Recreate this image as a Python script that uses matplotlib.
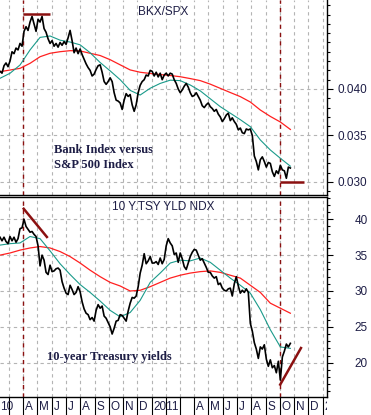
#Bank index ratio and 10 year yield, two stacked panels with a shared month strip
import pandas as pd
import matplotlib
matplotlib.use('Agg')
from matplotlib import pyplot as plt
import matplotlib.dates as mdates
from matplotlib.ticker import FixedLocator, MultipleLocator, FormatStrFormatter

start, end = '2010-02-10', '2011-10-24'

#BKX/SPX ratio (black), every ~4 days
bkx_spx = [0.0419, 0.0417, 0.0425, 0.0428, 0.0424, 0.0430, 0.0440, 0.0438, 0.0444, 0.0442,
           0.0449, 0.0446, 0.0462, 0.0467, 0.0463, 0.0472, 0.0478, 0.0470, 0.0462, 0.0475,
           0.0472, 0.0478, 0.0465, 0.0461, 0.0454, 0.0449, 0.0452, 0.0446, 0.0449, 0.0445,
           0.0450, 0.0447, 0.0451, 0.0448, 0.0455, 0.0463, 0.0452, 0.0439, 0.0444, 0.0438,
           0.0443, 0.0437, 0.0432, 0.0427, 0.0423, 0.0420, 0.0414, 0.0416, 0.0421, 0.0425,
           0.0426, 0.0418, 0.0408, 0.0405, 0.0408, 0.0412, 0.0408, 0.0396, 0.0388, 0.0387,
           0.0385, 0.0378, 0.0388, 0.0395, 0.0392, 0.0394, 0.0383, 0.0376, 0.0383, 0.0396,
           0.0404, 0.0408, 0.0410, 0.0415, 0.0414, 0.0420, 0.0419, 0.0414, 0.0418, 0.0413,
           0.0417, 0.0410, 0.0415, 0.0417, 0.0414, 0.0417, 0.0416, 0.0410, 0.0406, 0.0400,
           0.0396, 0.0399, 0.0403, 0.0406, 0.0402, 0.0396, 0.0392, 0.0393, 0.0396, 0.0392,
           0.0388, 0.0382, 0.0380, 0.0383, 0.0385, 0.0381, 0.0379, 0.0376, 0.0378, 0.0373,
           0.0370, 0.0365, 0.0368, 0.0372, 0.0374, 0.0366, 0.0369, 0.0365, 0.0362, 0.0356,
           0.0358, 0.0353, 0.0352, 0.0357, 0.0356, 0.0357, 0.0350, 0.0328, 0.0322, 0.0313,
           0.0324, 0.0327, 0.0322, 0.0316, 0.0321, 0.0320, 0.0311, 0.0306, 0.0312, 0.0309,
           0.0318, 0.0313, 0.0312, 0.0304, 0.0316, 0.0315]
#moving averages of the ratio, every ~3 weeks
bkx_fast = [0.04115, 0.04169, 0.04258, 0.04420, 0.04555, 0.04570, 0.04525, 0.04505, 0.04475, 0.04390,
            0.04285, 0.04195, 0.04100, 0.03985, 0.03935, 0.04008, 0.04060, 0.04095, 0.04090, 0.04043,
            0.03980, 0.03895, 0.03810, 0.03740, 0.03670, 0.03595, 0.03452, 0.03344, 0.03255, 0.03170]
bkx_slow = [0.04186, 0.04204, 0.04222, 0.04276, 0.04347, 0.04384, 0.04401, 0.04412, 0.04409, 0.04384,
            0.04360, 0.04315, 0.04260, 0.04205, 0.04180, 0.04167, 0.04155, 0.04145, 0.04132, 0.04112,
            0.04090, 0.04052, 0.04007, 0.03962, 0.03918, 0.03860, 0.03774, 0.03705, 0.03645, 0.03565]

#10 year treasury yield index (black)
tsy_yld = [37.5, 37.0, 37.5, 36.9, 36.6, 37.6, 37.0, 37.5, 36.8, 37.3,
           38.7, 38.8, 40.0, 39.0, 38.6, 38.2, 38.3, 37.9, 37.6, 36.3,
           33.5, 35.0, 34.3, 32.6, 32.3, 33.6, 32.7, 32.8, 33.1, 33.2,
           32.9, 31.3, 30.4, 29.7, 29.5, 30.8, 30.2, 29.5, 29.8, 30.6,
           29.9, 28.5, 27.5, 26.9, 26.7, 26.0, 26.3, 25.8, 27.3, 28.1,
           27.6, 27.9, 26.5, 26.2, 25.6, 25.0, 24.0, 24.8, 25.8, 25.9,
           26.7, 26.6, 26.2, 25.8, 27.2, 28.3, 29.1, 29.0, 29.3, 30.6,
           32.5, 33.6, 35.2, 33.8, 34.2, 34.8, 33.9, 33.9, 34.1, 33.7,
           34.6, 33.8, 34.4, 36.3, 37.3, 36.7, 36.3, 35.1, 35.3, 34.0,
           35.3, 34.5, 33.4, 33.0, 33.9, 34.8, 35.4, 35.8, 35.7, 35.0,
           34.3, 34.5, 33.9, 33.3, 32.6, 32.6, 32.1, 31.8, 32.0, 30.9,
           31.1, 30.4, 30.1, 30.0, 30.3, 30.4, 29.3, 31.0, 32.0, 30.7,
           29.7, 30.1, 29.8, 30.3, 29.8, 25.5, 24.4, 22.8, 21.9, 20.6,
           22.2, 21.9, 22.5, 20.5, 19.5, 20.4, 19.3, 19.6, 18.6, 20.2,
           17.6, 20.8, 21.6, 22.6, 22.2, 22.7]
tsy_fast = [36.4, 36.6, 36.7, 37.6, 37.3, 35.6, 33.8, 32.3, 30.9, 29.8,
            28.6, 27.3, 26.4, 27.0, 28.7, 31.2, 32.5, 33.9, 34.3, 34.2,
            34.6, 34.0, 32.9, 31.8, 30.8, 29.7, 27.4, 24.6, 22.2, 22.0]
tsy_slow = [35.0, 35.3, 35.7, 36.0, 36.2, 36.0, 35.5, 34.8, 33.9, 32.9,
            32.0, 31.2, 30.7, 30.0, 30.1, 30.6, 31.2, 31.8, 32.2, 32.5,
            32.7, 32.8, 32.6, 32.2, 31.8, 30.8, 29.8, 28.3, 27.6, 26.9]

#hand drawn marks
mark_dates = ['2010-04-01', '2011-10-01']
bkx_high_line = (['2010-04-01', '2010-05-28'], [0.0481, 0.0481])
bkx_low_line = (['2011-10-01', '2011-11-23'], [0.0300, 0.0300])
tsy_down_line = (['2010-03-31', '2010-05-23'], [41.6, 37.4])
tsy_up_line = (['2011-10-01', '2011-11-17'], [16.8, 22.2])

txt_color = '#1e1e46'
grid_color = '#b4b4b4'
mark_color = '#8b1010'
teal = '#1a9a8a'
red = '#ff2020'

plt.rcParams['font.family'] = ['Liberation Sans', 'DejaVu Sans']

def series(vals):
    return pd.date_range(start, end, periods=len(vals))

W, H = 371.0, 415.0
right = 327.3
fig = plt.figure(figsize=(W / 100, H / 100), dpi=100)
ax1 = fig.add_axes([0, 1 - 195 / H, right / W, 195 / H])
ax2 = fig.add_axes([0, 1 - 396.7 / H, right / W, 200 / H])
ax_lab = fig.add_axes([0, 0, right / W, 17.5 / H])

xlim = (pd.Timestamp(start), pd.Timestamp('2012-01-11'))

def style_panel(ax, major, minor, fmt, ylim, title, title_y):
    ax.set_xlim(xlim)
    ax.set_ylim(ylim)
    ax.xaxis.set_major_locator(mdates.MonthLocator())
    ax.tick_params(axis='x', length=0, labelbottom=False)
    ax.yaxis.tick_right()
    ax.yaxis.set_major_locator(FixedLocator(major))
    ax.yaxis.set_minor_locator(MultipleLocator(minor))
    ax.yaxis.set_major_formatter(FormatStrFormatter(fmt))
    ax.tick_params(axis='y', which='major', length=4.5, width=0.8, pad=24.5,
                   labelsize=8.5, labelcolor=txt_color)
    ax.tick_params(axis='y', which='minor', length=2.5, width=0.8)
    for t in ax.get_yticklabels():
        t.set_horizontalalignment('right')
    ax.grid(True, color=grid_color, linestyle=(0, (3, 3)), linewidth=0.8)
    ax.spines['left'].set_visible(False)
    for s in ['right', 'bottom', 'top']:
        ax.spines[s].set_linewidth(1.0)
    for d in mark_dates:
        ax.axvline(pd.Timestamp(d), color=mark_color, linestyle=(0, (3, 3)), linewidth=1.0)
    ax.text(0.5, title_y, title, transform=ax.transAxes, ha='center', va='center',
            fontsize=8.5, color=txt_color)

#top panel
style_panel(ax1, [0.030, 0.035, 0.040], 0.001, '%.3f', (0.0286, 0.04957), 'BKX/SPX', 1 - 11.7 / 195)
ax1.spines['top'].set_visible(False)
ax1.plot(series(bkx_slow), bkx_slow, color=red, lw=0.9)
ax1.plot(series(bkx_fast), bkx_fast, color=teal, lw=0.8)
ax1.plot(series(bkx_spx), bkx_spx, color='black', lw=1.2)
for dates, vals in [bkx_high_line, bkx_low_line]:
    ax1.plot(pd.to_datetime(dates), vals, color=mark_color, lw=1.8, solid_capstyle='butt')
ax1.text(0.166, 0.192, 'Bank Index versus\nS&P 500 Index', transform=ax1.transAxes,
         ha='left', va='center', fontsize=9, fontweight='bold', family='Liberation Serif',
         color=txt_color, linespacing=1.25)

#bottom panel
style_panel(ax2, [20, 25, 30, 35, 40], 1, '%d', (15.26, 43.15), '10 Y.TSY YLD NDX', 1 - 10 / 200)
ax2.plot(series(tsy_slow), tsy_slow, color=red, lw=0.9)
ax2.plot(series(tsy_fast), tsy_fast, color=teal, lw=0.8)
ax2.plot(series(tsy_yld), tsy_yld, color='black', lw=1.2)
for dates, vals in [tsy_down_line, tsy_up_line]:
    ax2.plot(pd.to_datetime(dates), vals, color=mark_color, lw=1.8, solid_capstyle='butt')
ax2.text(0.143, 0.197, '10-year Treasury yields', transform=ax2.transAxes,
         ha='left', va='center', fontsize=9, fontweight='bold', family='Liberation Serif',
         color=txt_color)

#month strip under the chart
ax_lab.set_xlim(xlim)
ax_lab.set_ylim(0, 1)
ax_lab.axis('off')
for m in pd.date_range('2010-01-01', '2012-01-01', freq='MS'):
    ax_lab.axvline(m, color='black', lw=0.8)
    if m.month in (2, 3):
        continue
    label = str(m.year) if m.month == 1 else m.strftime('%b')[0]
    x = m + pd.Timedelta(days=4)
    if x < xlim[0]:
        #year label that starts left of the chart: only its tail shows
        label, x = label[-2:], xlim[0]
    ax_lab.text(x, 0.47, label, ha='left', va='center',
                fontsize=8.5, color=txt_color, clip_on=True)

fig.savefig('out.png', dpi=100)
